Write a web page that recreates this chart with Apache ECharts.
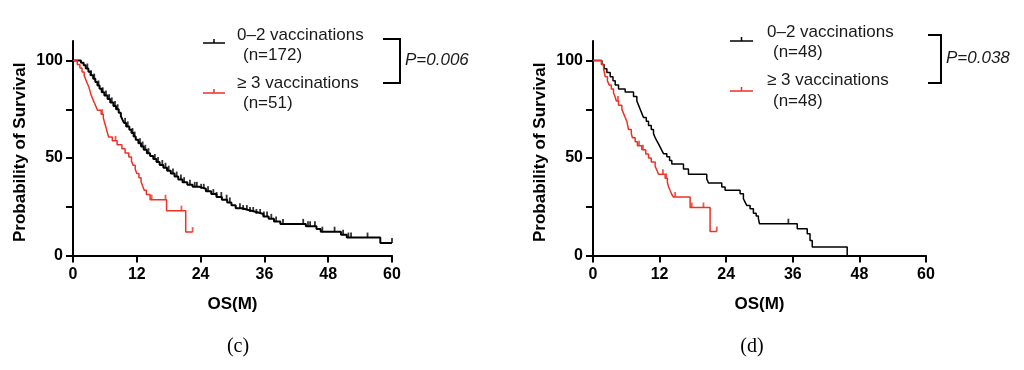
<!DOCTYPE html>
<html><head><meta charset="utf-8">
<script src="https://cdn.jsdelivr.net/npm/echarts@6/dist/echarts.min.js"></script>
<style>html,body{margin:0;padding:0;background:#fff}#chart{width:1024px;height:370px}</style>
</head><body><div id="chart"></div>
<script>
// ---- axis ticks ----
const xTickValues = [0, 12, 24, 36, 48, 60];
const yTickValues = [0, 25, 50, 75, 100];
const yLabelValues = [0, 50, 100];

// ---- panel (c): 0–2 vaccinations (n=172) ----
const c0Time = [0, 1.5, 2.0, 2.4, 2.9, 3.3, 3.8, 4.2, 4.6, 5.0, 5.4, 5.9, 6.5, 7.0, 7.6, 8.1, 8.6, 9.0, 9.3, 9.6, 10.0, 10.6, 11.0, 11.4, 11.8, 12.3, 12.8, 13.3, 13.9, 14.5, 15.1, 15.7, 16.3, 17.0, 17.7, 18.4, 19.1, 19.8, 20.6, 21.5, 22.5, 23.8, 25.0, 26.0, 27.0, 28.0, 29.0, 29.8, 30.6, 31.8, 33.0, 34.5, 35.8, 36.8, 37.8, 39.0, 43.8, 45.8, 46.6, 50.4, 51.5, 57.8, 60];
const c0Surv = [100, 98.8, 97.6, 95.9, 94.2, 92.4, 90.7, 89.0, 87.2, 85.5, 83.7, 82.0, 80.2, 78.5, 76.7, 75.0, 73.2, 71.5, 69.7, 68.0, 66.2, 64.5, 62.8, 61.0, 59.3, 57.6, 55.9, 54.2, 52.5, 51.0, 49.5, 48.0, 46.4, 45.0, 43.5, 42.0, 40.5, 39.0, 37.6, 36.3, 35.2, 34.2, 33.0, 31.5, 30.0, 28.6, 27.2, 25.8, 24.2, 23.3, 22.3, 21.3, 20.0, 18.8, 17.4, 16.2, 15.0, 13.6, 12.2, 10.6, 9.2, 6.4, 6.4];
const c0Censor = [2.7, 3.4, 4.0, 4.8, 5.6, 6.2, 6.8, 7.3, 7.9, 8.4, 9.8, 10.3, 11.2, 11.6, 12.6, 13.1, 13.6, 14.2, 15.4, 16.0, 16.8, 17.4, 18.0, 18.8, 19.5, 20.3, 20.9, 22.0, 22.9, 23.3, 24.1, 24.6, 25.4, 26.4, 27.0, 27.9, 28.9, 29.5, 31.4, 32.0, 32.7, 33.3, 33.9, 34.5, 35.2, 35.9, 36.5, 37.3, 38.2, 39.5, 43.3, 44.2, 44.6, 45.5, 46.9, 49.2, 50.8, 51.8, 52.3, 55.4, 60];

// ---- panel (c): >= 3 vaccinations (n=51) ----
const c3Time = [0, 0.8, 1.3, 1.7, 2.1, 2.4, 2.7, 3.0, 3.2, 3.4, 3.7, 4.0, 4.3, 4.6, 5.3, 5.7, 5.9, 6.1, 6.3, 6.5, 6.7, 7.4, 8.3, 9.2, 9.8, 10.5, 11.0, 11.3, 11.7, 12.0, 12.4, 12.8, 13.1, 13.4, 13.8, 14.5, 17.6, 21.2, 22.5];
const c3Surv = [100, 98.0, 96.1, 94.1, 92.2, 90.2, 88.2, 86.3, 84.3, 82.4, 80.4, 78.4, 76.5, 74.5, 72.5, 70.6, 68.6, 66.7, 64.7, 62.7, 60.8, 58.8, 56.8, 54.7, 52.6, 50.5, 48.4, 46.3, 44.2, 42.0, 39.9, 37.8, 35.6, 33.5, 31.3, 28.6, 23.0, 12.0, 12.0];
const c3Censor = [5.5, 8.0, 14.8, 17.4, 20.4, 22.5];

// ---- panel (d): 0–2 vaccinations (n=48) ----
const d0Time = [0, 1.6, 2.0, 2.5, 3.1, 3.6, 4.0, 4.6, 5.8, 7.3, 7.9, 8.2, 8.5, 8.8, 9.1, 9.6, 10.0, 10.5, 10.9, 11.2, 11.5, 11.8, 12.1, 12.4, 12.7, 13.3, 13.8, 14.2, 16.3, 17.2, 20.5, 20.8, 23.2, 23.8, 26.5, 27.1, 27.4, 27.7, 28.3, 28.9, 29.4, 29.8, 30.0, 36.8, 38.6, 39.1, 39.5, 45.8];
const d0Surv = [100, 97.9, 95.8, 93.8, 91.7, 89.6, 87.5, 85.4, 83.8, 81.5, 79.2, 77.1, 75.0, 72.9, 70.8, 68.8, 66.7, 64.6, 62.5, 60.4, 58.8, 57.2, 55.6, 53.9, 52.2, 50.6, 48.7, 46.9, 44.3, 41.7, 39.3, 37.2, 35.1, 33.4, 31.7, 29.1, 27.4, 25.7, 24.0, 21.7, 20.3, 18.9, 16.3, 13.7, 11.1, 7.7, 4.3, 0];
const d0Censor = [35.2];

// ---- panel (d): >= 3 vaccinations (n=48) ----
const d3Time = [0, 1.5, 1.9, 2.2, 2.6, 2.9, 3.3, 3.7, 4.0, 4.2, 4.6, 5.2, 5.5, 5.8, 6.1, 6.4, 6.9, 7.1, 7.6, 8.0, 8.8, 9.5, 10.0, 10.5, 11.2, 11.5, 11.8, 13.0, 13.4, 13.6, 13.9, 14.2, 14.5, 17.5, 21.1, 22.3];
const d3Surv = [100, 97.9, 95.8, 91.7, 89.6, 87.5, 85.4, 83.3, 81.3, 79.2, 77.1, 75.0, 72.9, 70.8, 68.8, 64.6, 62.5, 60.4, 58.3, 56.3, 54.2, 52.1, 50.0, 47.9, 45.8, 43.8, 41.7, 39.6, 37.5, 35.4, 33.3, 31.3, 30.0, 24.6, 12.3, 12.3];
const d3Censor = [4.5, 8.3, 9.0, 12.6, 13.2, 14.8, 17.8, 19.9, 22.3];

// ---- texts ----
const legendC = ['0–2 vaccinations', '(n=172)', '≥ 3 vaccinations', '(n=51)'];
const legendD = ['0–2 vaccinations', '(n=48)', '≥ 3 vaccinations', '(n=48)'];
const pValues = ['P=0.006', 'P=0.038'];
const panelLabels = ['(c)', '(d)'];
const xName = 'OS(M)';
const yName = 'Probability of Survival';

const FONT = '"Liberation Sans", Arial, Helvetica, sans-serif';
const BLACK = '#000000';
const RED = '#ee3124';
const TXT = '#1a1a1a';

function pairs(t, s) { return t.map((v, i) => [v, s[i]]); }
function survAt(t, s, x) { let v = s[0]; for (let i = 0; i < t.length; i++) { if (t[i] <= x) v = s[i]; } return v; }
function censorPts(c, t, s) { return c.map(x => [x, survAt(t, s, x)]); }

function xAxisCfg(gi) {
  return {
    type: 'value', gridIndex: gi, min: 0, max: 60, interval: 12,
    axisLine: { show: true, onZero: false, lineStyle: { color: BLACK, width: 2 } },
    axisTick: { show: true, length: 7, customValues: xTickValues, lineStyle: { color: BLACK, width: 2 } },
    axisLabel: { fontSize: 16, fontWeight: 'bold', color: BLACK, margin: 11, fontFamily: FONT, customValues: xTickValues },
    splitLine: { show: false },
    name: xName, nameLocation: 'middle', nameGap: 40,
    nameTextStyle: { fontSize: 17, fontWeight: 'bold', color: BLACK, fontFamily: FONT }
  };
}
function yAxisCfg(gi) {
  return {
    type: 'value', gridIndex: gi, min: 0, max: 110,
    axisLine: { show: true, onZero: false, lineStyle: { color: BLACK, width: 2 } },
    axisTick: { show: true, length: 7, customValues: yTickValues, lineStyle: { color: BLACK, width: 2 } },
    axisLabel: { fontSize: 16, fontWeight: 'bold', color: BLACK, margin: 10, fontFamily: FONT, customValues: yLabelValues },
    splitLine: { show: false },
    name: yName, nameLocation: 'middle', nameGap: 44, nameRotate: 90,
    nameTextStyle: { fontSize: 17, fontWeight: 'bold', color: BLACK, fontFamily: FONT, padding: [0, 8, 0, 0] }
  };
}
function lineSeries(gi, t, s, color, w) {
  return { type: 'line', xAxisIndex: gi, yAxisIndex: gi, step: 'end', data: pairs(t, s),
    showSymbol: false, silent: true, lineStyle: { color: color, width: w }, itemStyle: { color: color } };
}
function censorSeries(gi, c, t, s, color) {
  return { type: 'scatter', xAxisIndex: gi, yAxisIndex: gi, data: censorPts(c, t, s),
    symbol: 'rect', symbolSize: [1.8, 5], symbolOffset: [0, -2.5], silent: true, z: 3,
    itemStyle: { color: color } };
}

function legendGraphics(x0, iconW, textX, rows, bracket, pText, pX, pY) {
  const g = [];
  const yIcon = [rows.icon1, rows.icon2];
  const cols = [BLACK, RED];
  for (let k = 0; k < 2; k++) {
    g.push({ type: 'line', shape: { x1: x0, y1: yIcon[k], x2: x0 + iconW, y2: yIcon[k] }, style: { stroke: cols[k], lineWidth: 1.5 } });
    g.push({ type: 'line', shape: { x1: x0 + iconW / 2, y1: yIcon[k], x2: x0 + iconW / 2, y2: yIcon[k] - 4 }, style: { stroke: cols[k], lineWidth: 1.5 } });
  }
  const ty = rows.text;
  const labels = rows.labels;
  for (let k = 0; k < 4; k++) {
    g.push({ type: 'text', x: textX + (k % 2 === 1 ? 6 : 0), y: ty[k],
      style: { text: labels[k], font: '17px ' + FONT, fill: TXT, verticalAlign: 'middle' } });
  }
  g.push({ type: 'polyline', shape: { points: bracket }, style: { stroke: BLACK, lineWidth: 2, fill: null } });
  g.push({ type: 'text', x: pX, y: pY, style: { text: pText, font: 'italic 17px ' + FONT, fill: TXT, verticalAlign: 'middle' } });
  return g;
}

const graphics = [].concat(
  legendGraphics(203, 22, 237, { icon1: 43, icon2: 93, text: [35, 55, 83, 103], labels: legendC },
    [[383, 39], [400, 39], [400, 83], [383, 83]], pValues[0], 405, 60),
  legendGraphics(730, 23, 767, { icon1: 41, icon2: 91, text: [32, 52, 80, 101], labels: legendD },
    [[928, 35], [941, 35], [941, 83], [928, 83]], pValues[1], 946, 58),
  [
    { type: 'text', x: 238, y: 347, style: { text: panelLabels[0], font: '20px "Liberation Serif", "Times New Roman", serif', fill: BLACK, align: 'center', verticalAlign: 'middle' } },
    { type: 'text', x: 752, y: 347, style: { text: panelLabels[1], font: '20px "Liberation Serif", "Times New Roman", serif', fill: BLACK, align: 'center', verticalAlign: 'middle' } }
  ]
);

const chart = echarts.init(document.getElementById('chart'), null, { renderer: 'canvas' });
chart.setOption({
  animation: false,
  backgroundColor: '#ffffff',
  grid: [
    { left: 73, width: 319, top: 41, height: 214.5 },
    { left: 593, width: 333, top: 41, height: 214.5 }
  ],
  xAxis: [xAxisCfg(0), xAxisCfg(1)],
  yAxis: [yAxisCfg(0), yAxisCfg(1)],
  series: [
    lineSeries(0, c0Time, c0Surv, BLACK, 2),
    lineSeries(0, c3Time, c3Surv, RED, 1.5),
    censorSeries(0, c0Censor, c0Time, c0Surv, BLACK),
    censorSeries(0, c3Censor, c3Time, c3Surv, RED),
    lineSeries(1, d0Time, d0Surv, BLACK, 1.5),
    lineSeries(1, d3Time, d3Surv, RED, 1.5),
    censorSeries(1, d0Censor, d0Time, d0Surv, BLACK),
    censorSeries(1, d3Censor, d3Time, d3Surv, RED)
  ],
  graphic: graphics
});
</script>
</body></html>
